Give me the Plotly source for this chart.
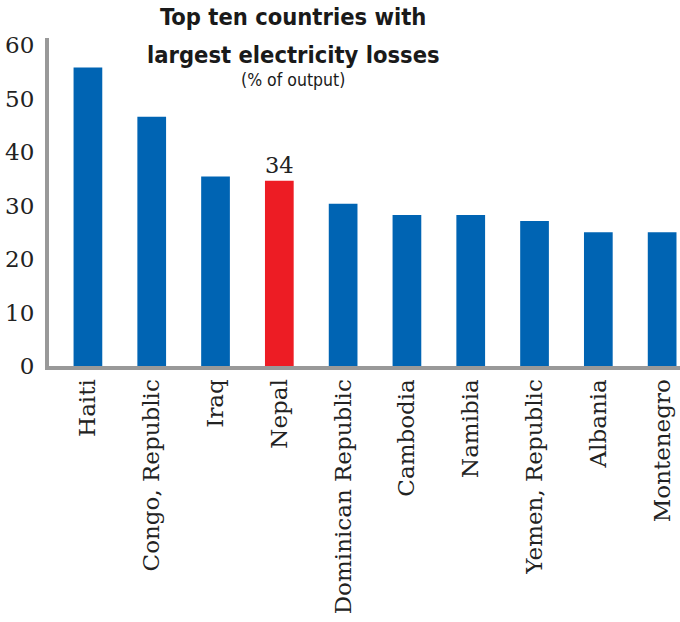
import plotly.graph_objects as go

countries = ["Haiti", "Congo, Republic", "Iraq", "Nepal", "Dominican Republic",
             "Cambodia", "Namibia", "Yemen, Republic", "Albania", "Montenegro"]
losses = [55.8, 46.6, 35.4, 34.6, 30.3, 28.2, 28.2, 27.1, 25.0, 25.0]
bar_labels = ["", "", "", "34", "", "", "", "", "", ""]
highlight = "Nepal"
y_ticks = [0, 10, 20, 30, 40, 50, 60]

BLUE = "#0064B3"
RED = "#ED1C24"
GRAY = "#999999"
SERIF = "DejaVu Serif"

colors = [RED if c == highlight else BLUE for c in countries]

fig = go.Figure(go.Bar(
    x=countries, y=losses, marker_color=colors, marker_line_width=0,
    text=bar_labels, textposition="outside", cliponaxis=False,
    textfont=dict(family=SERIF, size=23, color="#222222"),
))

T, B, L = 38, 256, 49
PH = 622 - T - B

fig.update_layout(
    width=680, height=622,
    margin=dict(l=L, r=0, t=T, b=B),
    plot_bgcolor="white", paper_bgcolor="white",
    bargap=0.55, showlegend=False,
    font=dict(family=SERIF, color="#222222"),
)
fig.update_xaxes(
    range=[-0.61, 9.28], showline=True, linecolor=GRAY, linewidth=4,
    tickangle=-90, tickfont=dict(family=SERIF, size=23, color="#222222"),
    ticks="", showgrid=False, zeroline=False, automargin=False,
)
fig.update_yaxes(
    range=[0, 61.3], tickvals=y_ticks, showline=True, linecolor=GRAY, linewidth=4,
    tickfont=dict(family=SERIF, size=23, color="#222222"),
    ticks="", ticklabelstandoff=6, showgrid=False, zeroline=False, automargin=False,
)


def py(p):
    return 1 + (T - p) / PH


title_font = "DejaVu Sans Condensed, DejaVu Sans, sans-serif"
cx = (293 - L) / (680 - L)
fig.add_annotation(text="<b>Top ten countries with</b>", xref="paper", yref="paper",
                   x=cx, y=py(24 - 0.3 * 23.5), xanchor="center", yanchor="middle",
                   showarrow=False, font=dict(family=title_font, size=23.5, color="#1a1a1a"))
fig.add_annotation(text="<b>largest electricity losses</b>", xref="paper", yref="paper",
                   x=cx, y=py(62 - 0.3 * 23.5), xanchor="center", yanchor="middle",
                   showarrow=False, font=dict(family=title_font, size=23.5, color="#1a1a1a"))
fig.add_annotation(text="(% of output)", xref="paper", yref="paper",
                   x=cx, y=py(85 - 0.3 * 17.5), xanchor="center", yanchor="middle",
                   showarrow=False, font=dict(family=title_font, size=17.5, color="#1a1a1a"))

fig.write_html("out.html", config={"displayModeBar": False},
               post_script="document.body.style.margin='0';")
